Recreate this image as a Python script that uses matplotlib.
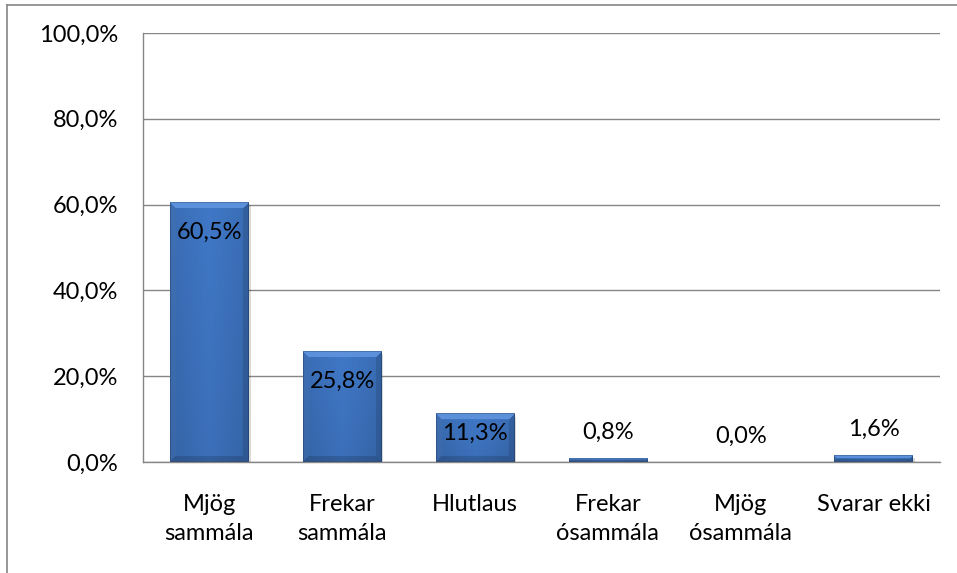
import numpy as np
import matplotlib
matplotlib.use("Agg")
import matplotlib.pyplot as plt
from matplotlib import transforms
from matplotlib.lines import Line2D

categories = ["Mjög\nsammála", "Frekar\nsammála", "Hlutlaus", "Frekar\nósammála", "Mjög\nósammála", "Svarar ekki"]
values = [60.5, 25.8, 11.3, 0.8, 0.0, 1.6]
yticks = [0, 20, 40, 60, 80, 100]

plt.rcParams['font.family'] = ['Lato', 'DejaVu Sans']

W, H, DPI = 957, 573, 100
FS = 17
fig = plt.figure(figsize=(W / DPI, H / DPI), dpi=DPI)
ax = fig.add_axes([143 / W, 1 - 462 / H, (940 - 143) / W, (462 - 33) / H])

x = np.arange(len(categories))
bw = 0.59
gray = "#868686"

# shadow
shadow_tr = transforms.offset_copy(ax.transData, fig=fig, x=2, y=-3, units='dots')
ax.bar(x, values, width=bw, color="#000000", alpha=0.15, transform=shadow_tr, zorder=2, linewidth=0)
bars = ax.bar(x, values, width=bw, color="#3a70bd", linewidth=0, zorder=3)

ax.set_xlim(-0.5, len(categories) - 0.5)
ax.set_ylim(0, 100)

# bevel / gradient overlay
base = np.array([0x3e, 0x75, 0xc2]) / 255.0
ppx = (940 - 143) / len(categories)
ppy = (462 - 33) / 100.0
for b in bars:
    h = b.get_height()
    if h <= 0:
        continue
    wpx = max(int(round(b.get_width() * ppx)), 2)
    hpx = max(int(round(h * ppy)), 2)
    yy, xx = np.mgrid[0:hpx, 0:wpx]
    img = np.tile(base, (hpx, wpx, 1)).astype(float)
    u = (xx + 0.5) / wpx
    prof = 1.0 - 0.10 * np.abs(u - 0.5) * 2
    t = yy / max(hpx - 1, 1)
    img = img * (prof * (1.03 - 0.08 * t))[..., None]
    bev = min(6, hpx / 2.0, wpx / 2.0)
    dtop = yy + 0.5
    dbot = hpx - yy - 0.5
    dleft = xx + 0.5
    dright = wpx - xx - 0.5
    dmin = np.minimum(np.minimum(dtop, dbot), np.minimum(dleft, dright))
    inside = dmin < bev
    top_m = inside & (dtop == dmin)
    bot_m = inside & (dbot == dmin) & ~top_m
    left_m = inside & (dleft == dmin) & ~top_m & ~bot_m
    right_m = inside & (dright == dmin) & ~top_m & ~bot_m & ~left_m
    light = np.array([0x5c, 0x90, 0xda]) / 255.0
    img[top_m] = light
    img[left_m] = img[left_m] * 0.95 + 0.03
    img[right_m] = img[right_m] * 0.88
    img[bot_m] = img[bot_m] * 0.85
    edge = dmin < 1.0
    img[edge] = img[edge] * 0.8
    ax.imshow(np.clip(img, 0, 1), extent=(b.get_x(), b.get_x() + b.get_width(), 0, h),
              origin='upper', aspect='auto', zorder=4, interpolation='bilinear')

ax.set_xlim(-0.5, len(categories) - 0.5)
ax.set_ylim(0, 100)

# data labels
for b, v in zip(bars, values):
    cx = b.get_x() + b.get_width() / 2
    lab = f"{v:.1f}".replace(".", ",") + "%"
    if v >= 20:
        off = -30
    elif v >= 5:
        off = -20
    else:
        off = 26
    ax.annotate(lab, (cx, v), xytext=(0, off * 72 / DPI), textcoords='offset points',
                ha='center', va='center', fontsize=FS, color='black', zorder=6)

ax.set_yticks(yticks)
ax.set_yticklabels([f"{t:.1f}".replace(".", ",") + "%" for t in yticks])
ax.set_xticks(x)
ax.set_xticklabels(categories, linespacing=1.5)
ax.tick_params(axis='y', length=0, pad=18, labelsize=FS)
ax.tick_params(axis='x', length=0, pad=23, labelsize=FS)

ax.grid(axis='y', color=gray, linewidth=1.0, zorder=0)
ax.set_axisbelow(True)
for s in ['top', 'right']:
    ax.spines[s].set_visible(False)
for s in ['left', 'bottom']:
    ax.spines[s].set_color(gray)
    ax.spines[s].set_linewidth(1.0)
    ax.spines[s].set_zorder(5)

# outer chart frame
fx = 7.5 / W
fy = 1 - 4.5 / H
fig.add_artist(Line2D([fx, fx], [0, fy], transform=fig.transFigure, color=gray, linewidth=1.2))
fig.add_artist(Line2D([fx, 1.0], [fy, fy], transform=fig.transFigure, color=gray, linewidth=1.2))

fig.savefig("out.png", dpi=DPI)
